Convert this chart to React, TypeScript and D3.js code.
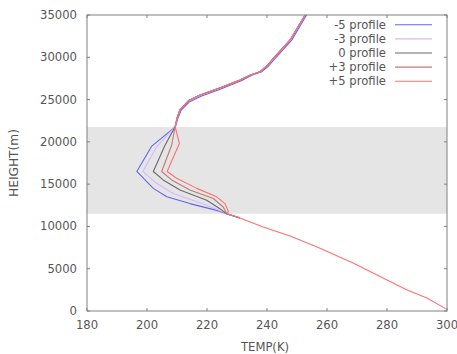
import React from "react";
import * as d3 from "d3";

// ---- data (temperature K, height m) ----
const xTicks = [180, 200, 220, 240, 260, 280, 300];
const yTicks = [0, 5000, 10000, 15000, 20000, 25000, 30000, 35000];
const bandRange = [11500, 21750];

const upperProfile: [number, number][] = [
  [252.7, 35000], [250.5, 33700], [247.7, 32050], [245, 31000], [242.2, 29900],
  [240, 29000], [237.7, 28300], [234.5, 27900], [231, 27300], [224, 26350],
  [217.5, 25500], [213.8, 24850], [211, 23800], [210, 22800], [209.4, 21800],
];
const upperProfileM5: [number, number][] = [
  [253.2, 35000], [251, 33700], [248.3, 32050], [245.6, 31000], [242.8, 29900],
  [240.6, 29000], [238.3, 28300], [235.1, 27900], [231.6, 27250], [224.6, 26250],
  [218, 25400], [214.2, 24750], [211.4, 23750], [210.3, 22800], [209.5, 21800],
];

const bandM5: [number, number][] = [
  [201.6, 19500], [196.6, 16500], [202.1, 14500], [206.6, 13500], [214.3, 12700],
  [223.2, 11900], [226.5, 11500],
];
const bandM3: [number, number][] = [
  [203.2, 19400], [198.6, 16500], [203.2, 15100], [208.8, 13900], [219.9, 12500],
  [225.4, 11700], [226.5, 11500],
];
const band0: [number, number][] = [
  [206, 19600], [202.1, 16500], [205.4, 15500], [211, 14300], [219.9, 13100],
  [224.3, 12100], [226.5, 11500],
];
const bandP3: [number, number][] = [
  [208.2, 19600], [204.9, 16500], [208.2, 15500], [214.3, 14300], [222.1, 13300],
  [225.4, 12300], [226.6, 11500],
];
const bandP5: [number, number][] = [
  [210.8, 19800], [206.7, 16500], [209.9, 15700], [216.6, 14500], [223.2, 13500],
  [226, 12700], [227.1, 11800], [226.8, 11500],
];

const lowerShared: [number, number][] = [[231, 11000]];
const surfaceP5: [number, number][] = [
  [238.7, 9930], [247.7, 8870], [256.7, 7570], [268.7, 5675], [280, 3665],
  [286.7, 2483], [293.3, 1537], [299.7, 250],
];

const seriesLabels = ["-5 profile", "-3 profile", "0 profile", "+3 profile", "+5 profile"];
const seriesColors = ["#6464f2", "#d4b8ff", "#6a6a6a", "#c07878", "#ff7070"];

const series = [
  [...upperProfileM5, ...bandM5, ...lowerShared],
  [...upperProfile, ...bandM3, ...lowerShared],
  [...upperProfile, ...band0, ...lowerShared],
  [...upperProfile, ...bandP3, ...lowerShared],
  [...upperProfile, ...bandP5, ...lowerShared, ...surfaceP5],
];

const W = 457, H = 354;
const M = { left: 87, right: 447, top: 15, bottom: 311 };
const FONT = "DejaVu Sans, sans-serif";

export default function App() {
  const x = d3.scaleLinear().domain([180, 300]).range([M.left, M.right]);
  const y = d3.scaleLinear().domain([0, 35000]).range([M.bottom, M.top]);
  const line = d3
    .line<[number, number]>()
    .x((d) => x(d[0]))
    .y((d) => y(d[1]));
  const axisColor = "#808080";
  const textColor = "#555";
  const tl = 3;
  return (
    <svg
      width={W}
      height={H}
      style={{ position: "absolute", left: 0, top: 0, background: "#fff" }}
      fontFamily={FONT}
    >
      <rect x={0} y={0} width={W} height={H} fill="#fff" />
      <rect
        x={M.left}
        y={y(bandRange[1])}
        width={M.right - M.left}
        height={y(bandRange[0]) - y(bandRange[1])}
        fill="#e5e5e5"
      />
      {xTicks.map((t) => (
        <g key={"x" + t}>
          <line x1={x(t)} x2={x(t)} y1={M.bottom} y2={M.bottom - tl} stroke={axisColor} />
          <line x1={x(t)} x2={x(t)} y1={M.top} y2={M.top + tl} stroke={axisColor} />
          <text x={x(t)} y={M.bottom + 18} fontSize={11.6} fill={textColor} textAnchor="middle">
            {t}
          </text>
        </g>
      ))}
      {yTicks.map((t) => (
        <g key={"y" + t}>
          <line x1={M.left} x2={M.left + tl} y1={y(t)} y2={y(t)} stroke={axisColor} />
          <line x1={M.right} x2={M.right - tl} y1={y(t)} y2={y(t)} stroke={axisColor} />
          <text x={77} y={y(t) + 4} fontSize={11.6} fill={textColor} textAnchor="end">
            {t}
          </text>
        </g>
      ))}
      {series.map((s, i) => (
        <path
          key={i}
          d={line(s) || ""}
          fill="none"
          stroke={seriesColors[i]}
          strokeWidth={1.1}
          strokeLinejoin="round"
        />
      ))}
      <rect
        x={M.left}
        y={M.top}
        width={M.right - M.left}
        height={M.bottom - M.top}
        fill="none"
        stroke={axisColor}
        strokeWidth={1}
      />
      {seriesLabels.map((l, i) => {
        const ly = 24.7 + i * 14.15;
        return (
          <g key={l}>
            <text x={386} y={ly + 4} fontSize={11.6} fill={textColor} textAnchor="end">
              {l}
            </text>
            <line x1={395} x2={432} y1={ly} y2={ly} stroke={seriesColors[i]} strokeWidth={1.1} />
          </g>
        );
      })}
      <text x={265} y={351} fontSize={11.6} fill={textColor} textAnchor="middle">
        TEMP(K)
      </text>
      <text
        transform={`translate(18,163) rotate(-90)`}
        fontSize={12.2}
        fill={textColor}
        textAnchor="middle"
      >
        HEIGHT(m)
      </text>
    </svg>
  );
}
